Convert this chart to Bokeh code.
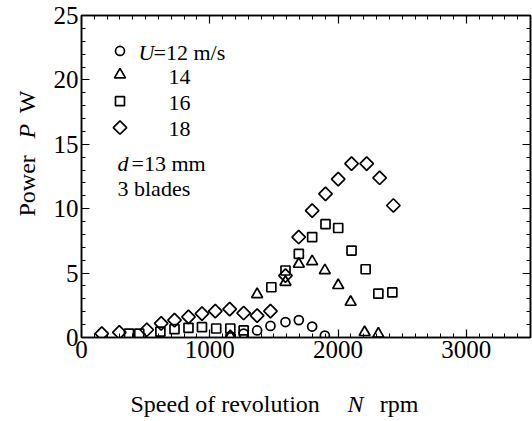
import numpy as np
from bokeh.plotting import figure
from bokeh.models import Label, LinearAxis, Range1d, FixedTicker
from bokeh.embed import file_html
from bokeh.resources import INLINE

# ---- data ----
rpm_u12 = [1160, 1264, 1369, 1473, 1590, 1694, 1798, 1897]
pow_u12 = [0.1, 0.3, 0.55, 0.9, 1.2, 1.35, 0.85, 0.15]

rpm_u14 = [1160, 1369, 1590, 1694, 1798, 1897, 2001, 2098, 2207, 2314]
pow_u14 = [0.1, 3.35, 4.3, 5.7, 5.9, 5.2, 4.05, 2.75, 0.4, 0.28]

rpm_u16 = [370, 450, 615, 725, 834, 939, 1050, 1160, 1264, 1480, 1590, 1694,
           1798, 1902, 2001, 2105, 2215, 2314, 2423]
pow_u16 = [0.3, 0.3, 0.45, 0.65, 0.75, 0.8, 0.7, 0.7, 0.55, 3.9, 5.2, 6.5,
           7.8, 8.8, 8.5, 6.75, 5.3, 3.4, 3.5]

rpm_u18 = [158, 295, 509, 621, 725, 834, 939, 1043, 1155, 1264, 1369, 1473,
           1590, 1693, 1798, 1902, 2001, 2105, 2223, 2324, 2431]
pow_u18 = [0.3, 0.4, 0.6, 1.1, 1.35, 1.6, 1.85, 2.05, 2.2, 1.9, 1.7, 2.05,
           4.8, 7.8, 9.85, 11.15, 12.3, 13.5, 13.5, 12.4, 10.25]

x_ticks = [0, 1000, 2000, 3000]
y_ticks = [0, 5, 10, 15, 20, 25]
X_MAX, Y_MAX = 3500, 25

SERIF = "Liberation Serif"
TICK_FS = "25px"
LAB_FS = "24px"
LEG_FS = "22px"

# frame geometry in page pixels
FX, FY, FW, FH = 81, 337, 449, 322

p = figure(width=532, height=421, x_range=Range1d(0, X_MAX), y_range=Range1d(0, Y_MAX),
           output_backend="svg", toolbar_location=None,
           min_border_left=FX, min_border_right=532 - FX - FW,
           min_border_top=FY - FH, min_border_bottom=421 - FY)
p.background_fill_color = "white"
p.border_fill_color = "white"
p.grid.visible = False
p.outline_line_color = "black"
p.outline_line_width = 1.5

def style_axis(ax, ticks, minor, labels=True):
    ax.ticker = FixedTicker(ticks=ticks, minor_ticks=minor)
    ax.major_tick_in = 8
    ax.major_tick_out = 0
    ax.minor_tick_in = 4
    ax.minor_tick_out = 0
    ax.major_tick_line_color = "black"
    ax.minor_tick_line_color = "black"
    ax.major_tick_line_width = 1.2
    ax.minor_tick_line_width = 1
    ax.axis_line_color = "black"
    ax.axis_line_width = 1.5
    if labels:
        ax.major_label_text_font = SERIF
        ax.major_label_text_font_size = TICK_FS
        ax.major_label_text_color = "black"
    else:
        ax.major_label_overrides = {t: "" for t in ticks}
        ax.major_label_text_font_size = "1px"
        ax.major_label_standoff = 0

x_minor = list(range(0, X_MAX + 1, 100))
y_minor = list(range(0, Y_MAX + 1, 1))

style_axis(p.xaxis[0], x_ticks, x_minor)
p.xaxis[0].major_label_standoff = 3
style_axis(p.yaxis[0], y_ticks, y_minor)
p.yaxis[0].major_label_standoff = 3

top = LinearAxis()
style_axis(top, x_ticks, x_minor, labels=False)
p.add_layout(top, "above")
right = LinearAxis()
style_axis(right, y_ticks, y_minor, labels=False)
p.add_layout(right, "right")

common = dict(fill_color=None, line_color="black", line_width=1.7)
p.scatter(rpm_u12, pow_u12, marker="circle", size=9, **common)
p.scatter(rpm_u14, pow_u14, marker="triangle", size=11, **common)
p.scatter(rpm_u16, pow_u16, marker="square", size=9, **common)
p.scatter(rpm_u18, pow_u18, marker="square", angle=np.pi / 4, size=9.5, **common)

# ---- legend (markers in data space) ----
leg_x = 300
leg_rows = [22.25, 20.4, 18.35, 16.3]
p.scatter([leg_x], [leg_rows[0]], marker="circle", size=9, **common)
p.scatter([leg_x], [leg_rows[1]], marker="triangle", size=11, **common)
p.scatter([leg_x], [leg_rows[2]], marker="square", size=9, **common)
p.scatter([leg_x], [leg_rows[3]], marker="square", angle=np.pi / 4, size=9.5, **common)

def lab(text, px, py, size=LEG_FS, style="normal", angle=0.0, place=None):
    # page pixel position -> data coordinates of the frame
    dx = (px - FX) * X_MAX / FW
    dy = (FY - py) * Y_MAX / FH
    l = Label(x=dx, y=dy, x_units="data", y_units="data",
              text=text, text_font=SERIF, text_font_size=size,
              text_font_style=style, text_color="black",
              text_align="left", text_baseline="middle", angle=angle)
    if place is None:
        p.add_layout(l)
    else:
        p.add_layout(l, place)  # side panel: drawn without clipping to the frame

lab("U", 138, 52, style="italic")
lab("=12 m/s", 153, 52)
lab("14", 168, 76)
lab("16", 168, 102)
lab("18", 168, 128)
lab("d", 117, 163, style="italic")
lab("=13 mm", 131, 163)
lab("3 blades", 117, 188)

NB = "\u00a0"
# axis titles
lab("Speed of revolution" + NB * 10 + "rpm", 130, 403, size=LAB_FS, place="below")
lab("N", 347, 403, size=LAB_FS, style="italic", place="left")
lab("Power" + NB * 7 + "W", 26, 216, size=LAB_FS, angle=np.pi / 2, place="left")
lab("P", 26, 138, size=LAB_FS, style="italic", angle=np.pi / 2, place="below")

open("out.html", "w").write(file_html(p, INLINE))
